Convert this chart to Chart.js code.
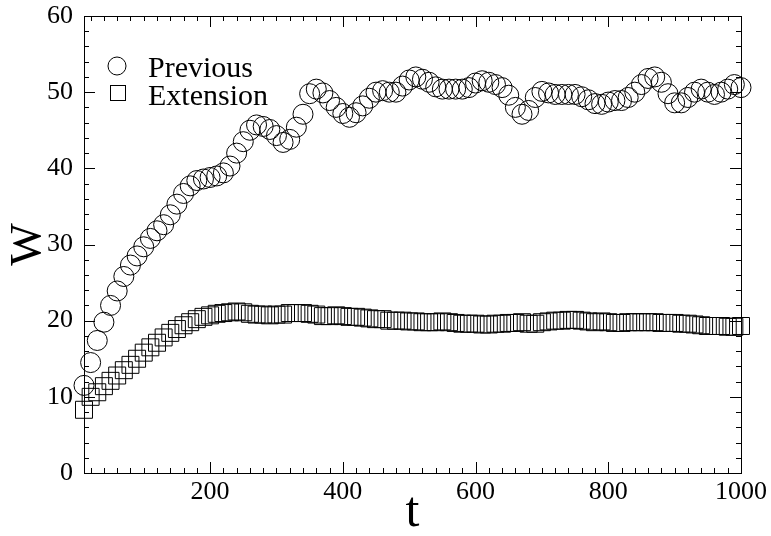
<!DOCTYPE html>
<html>
<head>
<meta charset="utf-8">
<script src="https://cdn.jsdelivr.net/npm/chart.js@4/dist/chart.umd.min.js"></script>
<style>
  html, body { margin: 0; padding: 0; background: #fff; }
  canvas { display: block; }
</style>
</head>
<body>
<canvas id="myChart1" width="771" height="536"></canvas>
<script>
// time steps
const tValues = [10,20,30,40,50,60,70,80,90,100,110,120,130,140,150,160,170,180,190,200,
  210,220,230,240,250,260,270,280,290,300,310,320,330,340,350,360,370,380,390,400,
  410,420,430,440,450,460,470,480,490,500,510,520,530,540,550,560,570,580,590,600,
  610,620,630,640,650,660,670,680,690,700,710,720,730,740,750,760,770,780,790,800,
  810,820,830,840,850,860,870,880,890,900,910,920,930,940,950,960,970,980,990,1000];

// W, previous model (circles)
const previous = [11.5,14.5,17.4,19.8,22.0,23.9,25.8,27.3,28.5,29.7,30.8,31.8,32.6,33.9,35.3,36.7,37.7,38.4,38.6,38.8,
  39.0,39.4,40.3,42.0,43.5,45.0,45.7,45.5,45.1,44.3,43.4,43.8,45.4,47.1,49.8,50.4,49.9,48.9,48.0,47.2,
  46.7,47.3,48.2,49.2,50.0,50.2,50.0,50.0,50.8,51.6,52.0,51.7,51.3,50.7,50.4,50.4,50.4,50.4,50.6,51.2,
  51.5,51.3,51.0,50.6,49.6,48.0,47.1,47.6,49.3,50.1,49.9,49.7,49.7,49.7,49.7,49.4,49.0,48.5,48.4,48.7,
  48.9,48.9,49.3,50.0,51.0,51.8,52.0,51.3,49.8,48.6,48.6,49.3,50.0,50.4,50.0,49.7,50.0,50.4,51.0,50.6];

// W, extension (squares)
const extension = [8.3,10.0,10.6,11.4,12.1,12.8,13.5,14.2,15.0,15.8,16.5,17.1,17.8,18.4,18.9,19.4,19.8,20.2,20.5,20.7,
  20.9,21.0,21.1,21.2,21.1,20.9,20.8,20.8,20.7,20.8,20.8,21.0,21.0,21.0,20.9,20.8,20.6,20.6,20.7,20.6,
  20.5,20.5,20.4,20.3,20.2,20.2,20.0,20.0,20.0,19.9,19.9,19.8,19.8,19.8,19.9,19.8,19.7,19.6,19.6,19.6,
  19.5,19.5,19.6,19.6,19.7,19.7,19.8,19.6,19.6,19.8,19.9,20.0,20.0,20.1,20.1,20.0,19.9,19.8,19.9,19.8,
  19.7,19.7,19.8,19.8,19.8,19.8,19.8,19.7,19.7,19.7,19.6,19.6,19.5,19.4,19.3,19.3,19.3,19.2,19.2,19.3];

const xTicks = [200,400,600,800,1000];
const yTicks = [0,10,20,30,40,50,60];

const serif = '"Liberation Serif", "DejaVu Serif", serif';

// frame, inside ticks on all sides, and the legend box
const decorations = {
  id: 'decorations',
  afterDraw(chart) {
    const ctx = chart.ctx;
    const a = chart.chartArea;
    const xs = chart.scales.x, ys = chart.scales.y;
    ctx.save();
    ctx.strokeStyle = '#000';
    ctx.lineWidth = 1;
    ctx.strokeRect(a.left + 0.5, a.top + 0.5, a.right - a.left, a.bottom - a.top);

    ctx.beginPath();
    for (let v = 20; v <= 1000; v += 20) {
      const px = Math.round(xs.getPixelForValue(v)) + 0.5;
      const len = v % 200 === 0 ? 11 : 5;
      ctx.moveTo(px, a.bottom); ctx.lineTo(px, a.bottom - len);
      ctx.moveTo(px, a.top); ctx.lineTo(px, a.top + len);
    }
    for (let v = 2; v < 60; v += 2) {
      const py = Math.round(ys.getPixelForValue(v)) + 0.5;
      const len = v % 10 === 0 ? 11 : 5;
      ctx.moveTo(a.left, py); ctx.lineTo(a.left + len, py);
      ctx.moveTo(a.right, py); ctx.lineTo(a.right - len, py);
    }
    ctx.stroke();

    // legend
    const ds = chart.data.datasets;
    ctx.beginPath();
    ctx.arc(117, 66, 9, 0, Math.PI * 2);
    ctx.stroke();
    ctx.strokeRect(110.5, 85.5, 15, 15);
    ctx.fillStyle = '#000';
    ctx.font = '30px ' + serif;
    ctx.textBaseline = 'alphabetic';
    ctx.fillText(ds[0].label, 148, 77);
    ctx.fillText(ds[1].label, 148, 105);
    ctx.restore();
  }
};

new Chart(document.getElementById('myChart1').getContext('2d'), {
  type: 'scatter',
  data: {
    datasets: [{
      label: 'Previous',
      data: tValues.map((t, i) => ({x: t, y: previous[i]})),
      pointStyle: 'circle',
      pointRadius: 10,
      borderColor: '#000',
      borderWidth: 1,
      backgroundColor: 'rgba(0,0,0,0)',
      clip: false
    },
    {
      label: 'Extension',
      data: tValues.map((t, i) => ({x: t, y: extension[i]})),
      pointStyle: 'rect',
      pointRadius: 12,
      borderColor: '#000',
      borderWidth: 1,
      backgroundColor: 'rgba(0,0,0,0)',
      clip: false
    }]
  },
  options: {
    responsive: false,
    animation: false,
    devicePixelRatio: 1,
    layout: { padding: { top: 15, right: 30, left: 0, bottom: 0 } },
    plugins: { legend: { display: false }, tooltip: { enabled: false } },
    scales: {
      x: {
        type: 'linear',
        min: 10,
        max: 1000,
        grid: { display: false },
        border: { display: false },
        afterBuildTicks: s => { s.ticks = xTicks.map(v => ({value: v})); },
        afterFit: s => { s.height = 63; },
        ticks: { font: { family: serif, size: 26, lineHeight: 1 }, color: '#000', padding: -2, maxRotation: 0,
                 callback: v => String(v) },
        title: { display: true, text: 't', color: '#000', font: { family: serif, size: 50, lineHeight: 0.92 }, padding: 0 }
      },
      y: {
        min: 0,
        max: 60,
        grid: { display: false },
        border: { display: false },
        afterBuildTicks: s => { s.ticks = yTicks.map(v => ({value: v})); },
        afterFit: s => { s.width = 84; },
        ticks: { font: { family: serif, size: 26, lineHeight: 1 }, color: '#000', padding: 3,
                 callback: v => String(v) },
        title: { display: true, text: 'W', color: '#000', font: { family: serif, size: 45 }, padding: { top: 1, bottom: 0 } }
      }
    }
  },
  plugins: [decorations]
});
</script>
</body>
</html>
